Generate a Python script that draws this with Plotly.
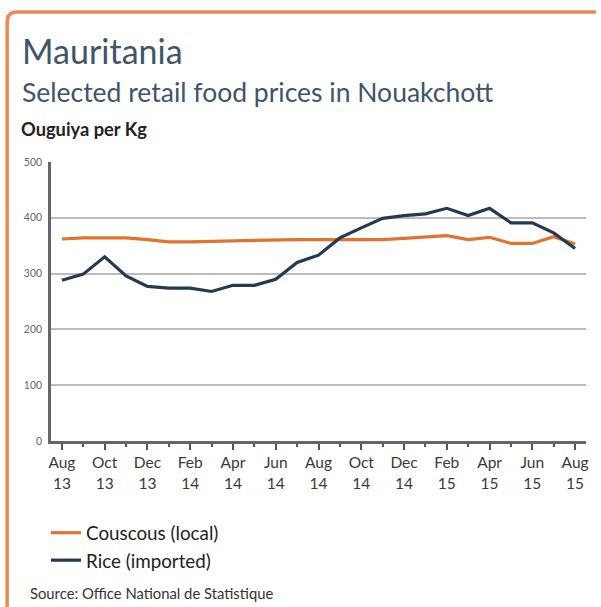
import plotly.graph_objects as go

months = ["Aug 13", "Sep 13", "Oct 13", "Nov 13", "Dec 13", "Jan 14", "Feb 14", "Mar 14",
          "Apr 14", "May 14", "Jun 14", "Jul 14", "Aug 14", "Sep 14", "Oct 14", "Nov 14",
          "Dec 14", "Jan 15", "Feb 15", "Mar 15", "Apr 15", "May 15", "Jun 15", "Jul 15", "Aug 15"]
couscous = [362, 364, 364, 364, 361, 357, 357, 358, 358, 360, 361, 361, 361,
            361, 361, 361, 363, 366, 368, 361, 365, 354, 354, 366, 353]
rice = [288, 299, 330, 296, 277, 274, 274, 268, 279, 279, 290, 320, 333,
        364, 382, 399, 404, 407, 417, 404, 417, 391, 391, 373, 345]
tick_labels = ["Aug<br>13", "Oct<br>13", "Dec<br>13", "Feb<br>14", "Apr<br>14", "Jun<br>14", "Aug<br>14",
               "Oct<br>14", "Dec<br>14", "Feb<br>15", "Apr<br>15", "Jun<br>15", "Aug<br>15"]
y_ticks = [0, 100, 200, 300, 400, 500]

W, H = 601, 607
L, R, T, B = 51, 588, 162, 441


def px(x):
    return (x - L) / (R - L)


def py(y):
    return (B - y) / (B - T)


FONT = "Lato"
idx = list(range(len(months)))

fig = go.Figure()
fig.add_trace(go.Scatter(x=idx, y=couscous, mode="lines", name="Couscous (local)",
                         legendgroup="a", line=dict(color="#e4722f", width=3.2)))
fig.add_trace(go.Scatter(x=idx, y=rice, mode="lines", name="Rice (imported)",
                         legendgroup="b", line=dict(color="#243a52", width=3.2)))

fig.update_layout(
    width=W, height=H,
    margin=dict(l=L, r=W - R, t=T, b=H - B, pad=0),
    paper_bgcolor="white", plot_bgcolor="white",
    font=dict(family=FONT, color="#333"),
    showlegend=True,
    legend=dict(x=px(46), y=py(514), xanchor="left", yanchor="top",
                font=dict(size=18.8, color="#222", family=FONT),
                bgcolor="rgba(0,0,0,0)", itemwidth=30, tracegroupgap=1,
                traceorder="normal"),
    xaxis=dict(range=[-0.51, 24.51], tickmode="array", tickvals=idx[::2], ticktext=tick_labels,
               ticks="outside", ticklen=6, tickwidth=1.5, tickcolor="#555",
               minor=dict(ticks="outside", ticklen=3.5, tickwidth=1.5, tickcolor="#555", dtick=1, tick0=0,
                          showgrid=False),
               showline=True, linecolor="#666", linewidth=2.5, showgrid=False, zeroline=False,
               tickfont=dict(size=15.5, color="#3a3a3a", family=FONT), fixedrange=True),
    yaxis=dict(range=[0, 500], tickvals=y_ticks, showline=True, linecolor="#666", linewidth=2.5,
               showgrid=True, gridcolor="#bcbcbc", gridwidth=2, zeroline=False,
               ticks="", tickfont=dict(size=10.5, color="#666", family=FONT), ticklabelstandoff=4),
)

annos = [
    dict(text="Mauritania", x=px(20), y=py(51), size=34, color="#40546a"),
    dict(text="Selected retail food prices in Nouakchott", x=px(20), y=py(92.5), size=26.5, color="#40546a"),
    dict(text="<b>Ouguiya per Kg</b>", x=px(19), y=py(128.5), size=18.3, color="#222"),
    dict(text="Source: Office National de Statistique", x=px(28), y=py(593), size=14.8, color="#333"),
]
for a in annos:
    fig.add_annotation(text=a["text"], x=a["x"], y=a["y"], xref="paper", yref="paper",
                       xanchor="left", yanchor="middle", showarrow=False,
                       font=dict(size=a["size"], color=a["color"], family=FONT))

# orange frame (left and top edges with rounded corner)
x0, y0, x1, yb, r = 7, 12, 598, 607, 10
path = (f"M {px(x0)},{py(yb)} L {px(x0)},{py(y0 + r)} "
        f"Q {px(x0)},{py(y0)} {px(x0 + r)},{py(y0)} L {px(x1)},{py(y0)}")
fig.add_shape(type="path", path=path, xref="paper", yref="paper",
              line=dict(color="#ec8a56", width=3.5), layer="above")

fig.write_html("out.html", config={"displayModeBar": False},
               post_script="document.body.style.margin='0';document.body.style.overflow='hidden';")
